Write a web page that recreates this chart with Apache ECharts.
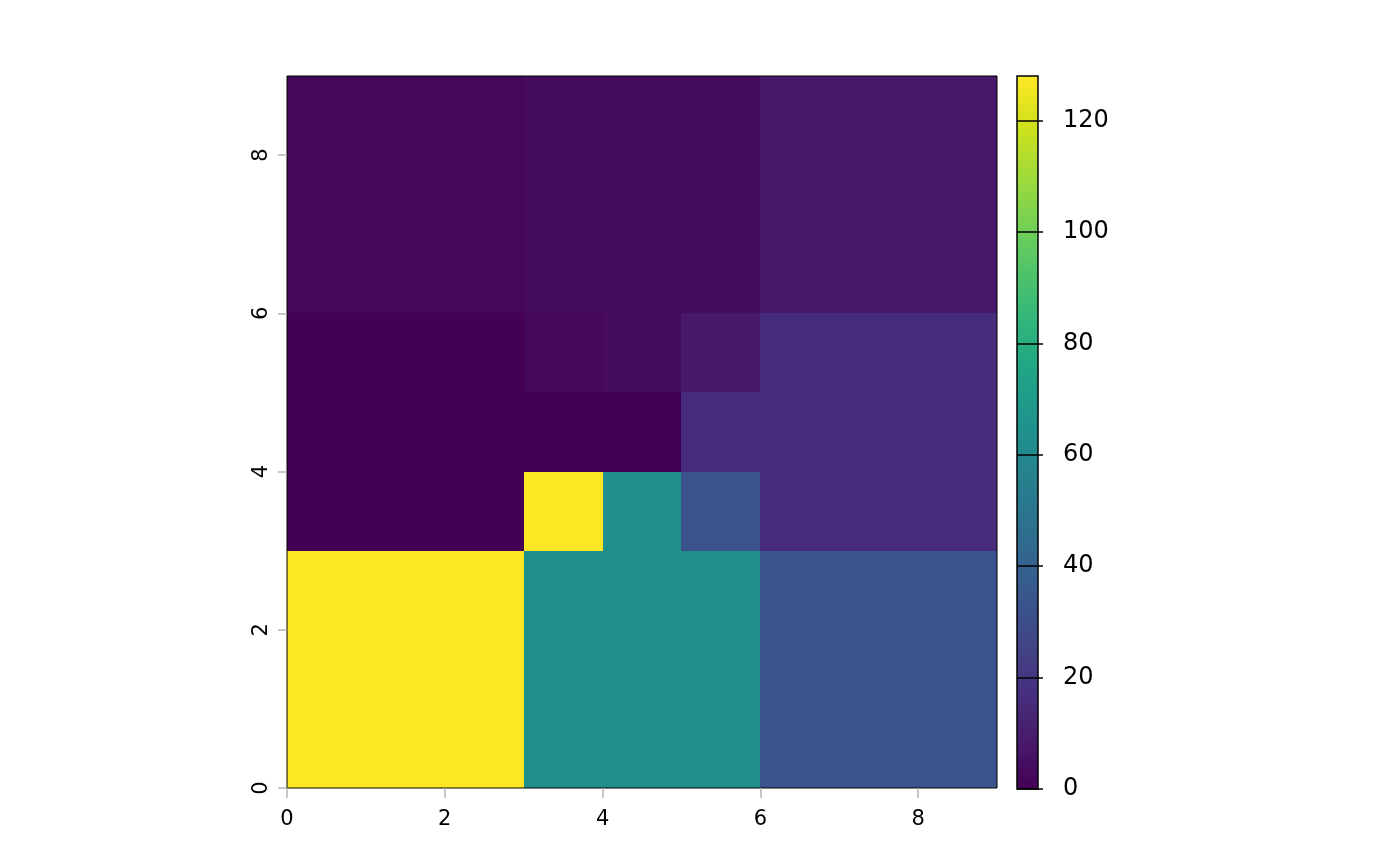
<!DOCTYPE html>
<html>
<head>
<meta charset="utf-8">
<title>raster</title>
<script src="https://cdn.jsdelivr.net/npm/echarts@6/dist/echarts.min.js"></script>
<style>
  html, body { margin: 0; padding: 0; background: #fff; }
  #main { width: 1400px; height: 866px; }
</style>
</head>
<body>
<div id="main"></div>
<script>
// 栅格数值, 按行从下(y=0)往上
var rows = [
    [128, 128, 128, 64, 64, 64, 32, 32, 32],
    [128, 128, 128, 64, 64, 64, 32, 32, 32],
    [128, 128, 128, 64, 64, 64, 32, 32, 32],
    [0, 0, 0, 128, 64, 32, 16, 16, 16],
    [0, 0, 0, 0, 0, 16, 16, 16, 16],
    [0, 0, 0, 2, 4, 8, 16, 16, 16],
    [2, 2, 2, 4, 4, 4, 8, 8, 8],
    [2, 2, 2, 4, 4, 4, 8, 8, 8],
    [2, 2, 2, 4, 4, 4, 8, 8, 8]
];
var axisTicks = [0, 2, 4, 6, 8];
var legendTicks = [0, 20, 40, 60, 80, 100, 120];
// viridis(16)
var viridis = ['#440154', '#481a6c', '#472f7d', '#414487', '#39568c', '#31688e',
               '#2a788e', '#23888e', '#1f988b', '#22a884', '#35b779', '#54c568',
               '#7ad151', '#a5db36', '#d2e21b', '#fde725'];

// 转成 [x, y, value]
var cells = [];
for (var r = 0; r < rows.length; r++) {
    for (var c = 0; c < rows[r].length; c++) {
        cells.push([c, r, rows[r][c]]);
    }
}

var chart = echarts.init(document.getElementById('main'));

var font = 'DejaVu Sans';

function renderCell(params, api) {
    var x = api.value(0), y = api.value(1);
    var p0 = api.coord([x, y + 1]);
    var p1 = api.coord([x + 1, y]);
    var x0 = Math.round(p0[0]), y0 = Math.round(p0[1]);
    var x1 = Math.round(p1[0]), y1 = Math.round(p1[1]);
    return {
        type: 'rect',
        shape: { x: x0, y: y0, width: x1 - x0, height: y1 - y0 },
        style: { fill: api.visual('color') }
    };
}

chart.setOption({
    animation: false,
    backgroundColor: '#fff',
    grid: [
        { left: 287, top: 76, width: 710, height: 712, show: true, z: 10,
          borderColor: '#000', borderWidth: 1, backgroundColor: 'transparent' },
        // 色条外框和刻度放在上层
        { left: 1017, top: 76, width: 21, height: 713, show: true, zlevel: 1,
          borderColor: '#000', borderWidth: 1.5, backgroundColor: 'transparent' }
    ],
    xAxis: [
        {
            type: 'value', gridIndex: 0, min: 0, max: 9, z: 10,
            axisLine: { show: false },
            splitLine: { show: false },
            axisTick: { customValues: axisTicks, length: 10, lineStyle: { color: '#b4b4b4', width: 1.5 } },
            axisLabel: { customValues: axisTicks, margin: 21, fontSize: 21, color: '#000', fontFamily: font }
        },
        { type: 'value', gridIndex: 1, min: 0, max: 1, show: false }
    ],
    yAxis: [
        {
            type: 'value', gridIndex: 0, min: 0, max: 9, z: 10,
            axisLine: { show: false },
            splitLine: { show: false },
            axisTick: { customValues: axisTicks, length: 9, lineStyle: { color: '#b4b4b4', width: 1.5 } },
            axisLabel: { customValues: axisTicks, rotate: 90, margin: 15, fontSize: 21, color: '#000', fontFamily: font }
        },
        {
            type: 'value', gridIndex: 1, min: 0, max: 128, position: 'left', zlevel: 1,
            axisLine: { show: false },
            splitLine: { show: false },
            axisTick: { customValues: legendTicks, inside: true, length: 26, lineStyle: { color: '#000', width: 1.5 } },
            axisLabel: { customValues: legendTicks, inside: true, margin: 46, fontSize: 24, color: '#000', fontFamily: font }
        }
    ],
    visualMap: {
        type: 'continuous',
        seriesIndex: 0,
        dimension: 2,
        min: 0,
        max: 128,
        left: 1017,
        top: 76,
        itemWidth: 21,
        itemHeight: 713,
        padding: 0,
        calculable: false,
        hoverLink: false,
        inRange: { color: viridis }
    },
    series: [{
        type: 'custom',
        xAxisIndex: 0,
        yAxisIndex: 0,
        z: 1,
        renderItem: renderCell,
        encode: { x: 0, y: 1 },
        data: cells
    }]
});
</script>
</body>
</html>
